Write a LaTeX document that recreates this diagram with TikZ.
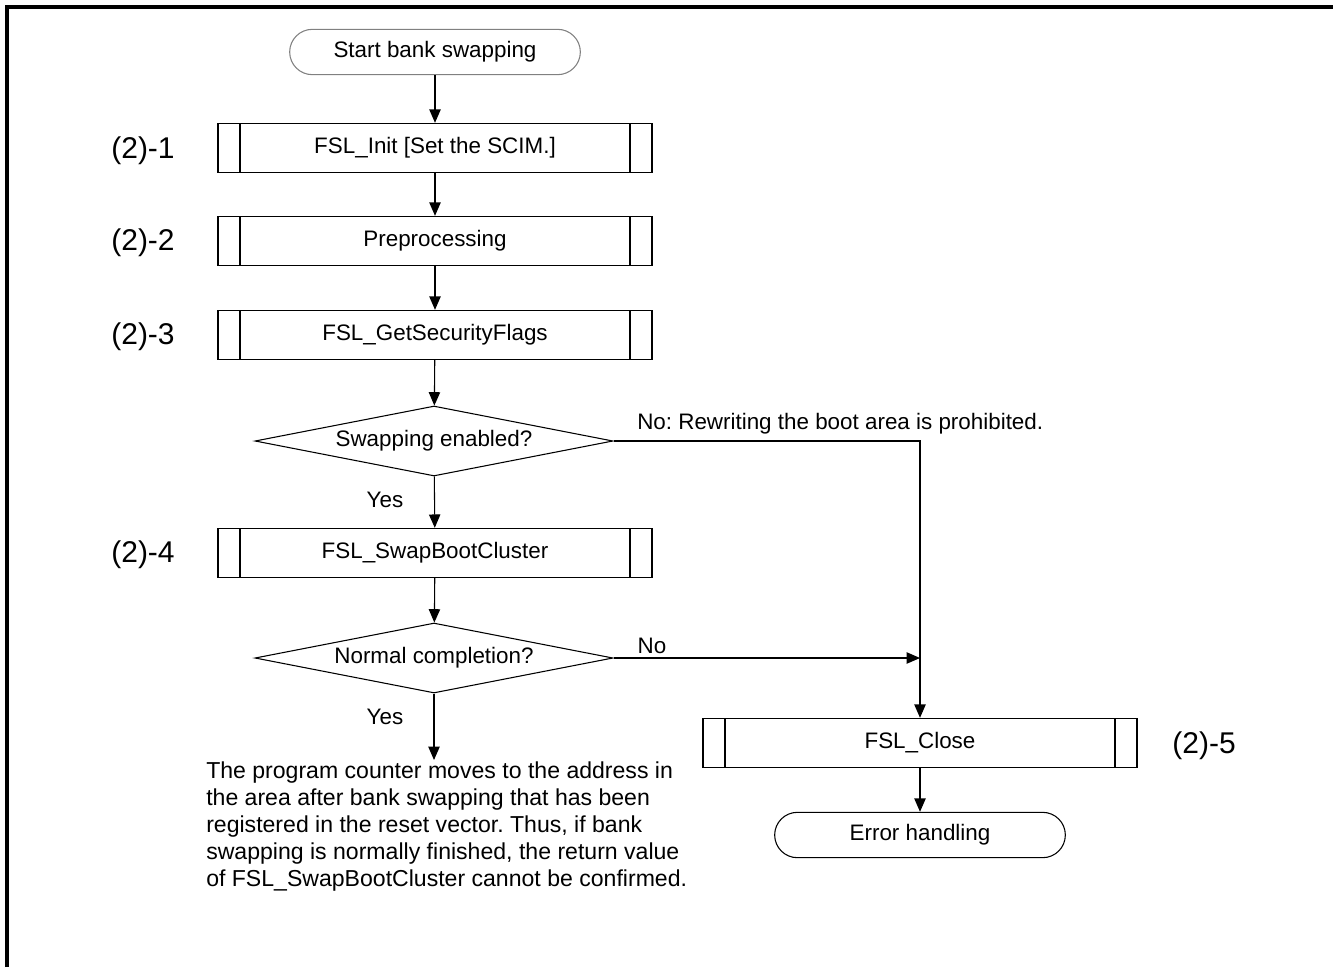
\documentclass[tikz,border=0pt]{standalone}
\usepackage{fontspec}
\setmainfont{Liberation Sans}
\frenchspacing
\usetikzlibrary{
    positioning,
    calc,
    shapes.geometric,
    arrows.meta
}
\definecolor{BordaCinza}{HTML}{808080}

\tikzset{
    arr/.style={-{Triangle[length=10pt,width=8.5pt]}, line width=0.8pt},
    terminal/.style={draw, line width=0.8pt, rounded corners=17pt,
        minimum width=218pt, minimum height=34pt, inner sep=0pt,
        font=\fontsize{16.8}{20}\selectfont},
    subproc/.style={draw, line width=0.8pt,
        minimum width=325.5pt, minimum height=37pt, inner sep=0pt,
        font=\fontsize{16.8}{20}\selectfont,
        path picture={
            \draw[line width=0.8pt]
                ([xshift=16.5pt]path picture bounding box.south west) --
                ([xshift=16.5pt]path picture bounding box.north west)
                ([xshift=-16.5pt]path picture bounding box.south east) --
                ([xshift=-16.5pt]path picture bounding box.north east);
        }},
    decision/.style={draw, diamond, line width=0.8pt, aspect=5, inner sep=0pt,
        minimum width=268.5pt, minimum height=52.5pt,
        font=\fontsize{16.8}{20}\selectfont},
    steplabel/.style={font=\fontsize{22.5}{26}\selectfont},
    branch/.style={font=\fontsize{16.8}{20}\selectfont, inner sep=0pt}
}

\begin{document}
\begin{tikzpicture}[x=0.75pt, y=-0.75pt]
    \useasboundingbox (0,0) rectangle (1333,967);
    % moldura
    \draw[line width=2.4pt] (7,967) -- (7,7) -- (1333,7);

    % fluxo principal
    \node[terminal, draw=BordaCinza] (start) at (435,52) {Start bank swapping};
    \node[subproc] (init)  at (435,148) {FSL\_Init [Set the SCIM.]};
    \node[subproc] (prep)  at (435,241) {Preprocessing};
    \node[subproc] (flags) at (435,335) {FSL\_GetSecurityFlags};
    \node[decision] (swapq) at (434,441) {Swapping enabled?};
    \node[subproc] (swap)  at (435,553) {FSL\_SwapBootCluster};
    \node[decision] (normq) at (434,658) {Normal completion?};
    \coordinate (yesend) at (434,760);

    % ramo de erro
    \node[subproc] (close) at (920,743) {FSL\_Close};
    \node[terminal] (err) at (920,835) {Error handling};

    % etiquetas
    \node[steplabel] at (143,151) {(2)-1};
    \node[steplabel] at (143,243) {(2)-2};
    \node[steplabel] at (143,337) {(2)-3};
    \node[steplabel] at (143,555) {(2)-4};
    \node[steplabel] at (1204,746) {(2)-5};

    \node[branch, anchor=west] at (637,424) {No: Rewriting the boot area is prohibited.};
    \node[branch] at (385,500) {Yes};
    \node[branch] at (652,646) {No};
    \node[branch] at (385,717) {Yes};

    \node[anchor=north west, inner sep=0pt, align=left,
          font=\fontsize{17.3}{20.1}\selectfont] (note) at (206,762) {
        The program counter moves to the address in\\
        the area after bank swapping that has been\\
        registered in the reset vector. Thus, if bank\\
        swapping is normally finished, the return value\\
        of FSL\_SwapBootCluster cannot be confirmed.};

    % conectores
    \draw[arr] (start) -- (init);
    \draw[arr] (init) -- (prep);
    \draw[arr] (prep) -- (flags);
    \draw[arr] (flags) -- (swapq);
    \draw[arr] (swapq) -- (swap);
    \draw[arr] (swap) -- (normq);
    \draw[arr] (normq) -- (yesend);
    \draw[arr] (swapq.east) -| (close.north);
    \draw[arr] (normq.east) -- (normq.east -| close.north);
    \draw[arr] (close) -- (err);
\end{tikzpicture}
\end{document}
